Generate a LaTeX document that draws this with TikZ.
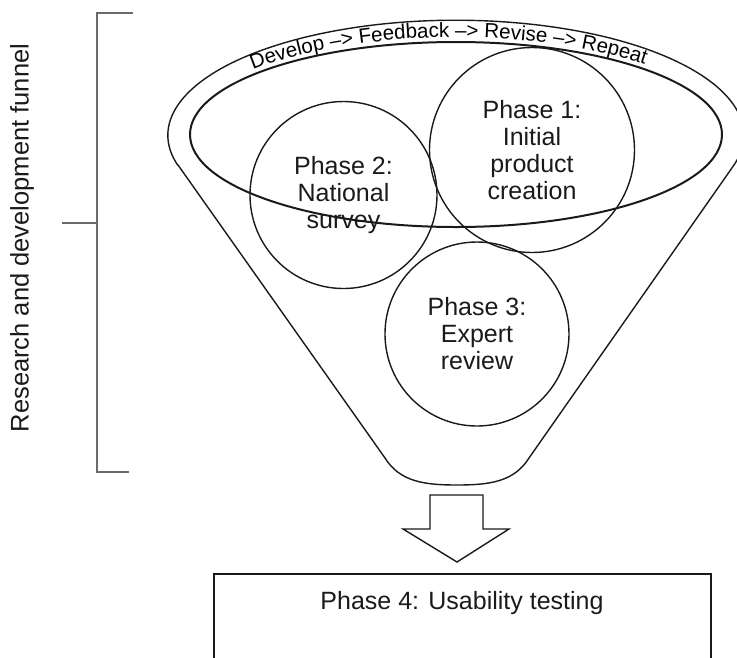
\documentclass[tikz,border=0pt]{standalone}
\usepackage{fontspec}
\setmainfont{Liberation Sans}
\usetikzlibrary{decorations.text}
\newcommand\arcfont{\fontsize{20.5pt}{22pt}\selectfont}
\newcommand\phasefont{\fontsize{25pt}{27pt}\selectfont}
\definecolor{ink}{HTML}{1A1A1A}
\definecolor{brk}{HTML}{6A6A6A}
\begin{document}
\begin{tikzpicture}[x=1pt,y=-1pt,
  thinline/.style={draw=ink, line width=1.4pt},
  phase/.style={circle, draw=ink, line width=1.4pt, inner sep=0pt, align=center, font=\phasefont, text=ink},
  bracketline/.style={draw=brk, line width=1.2pt}]
\useasboundingbox (0,0) rectangle (737,657);
\clip (0,0) rectangle (737,657);
% funnel outline
\draw[thinline] (178,165) -- (385,458)
  .. controls (400,482) and (425,485) .. (457,485)
  .. controls (489,485) and (514,482) .. (529,458)
  -- (734,165) arc[start angle=15, end angle=-195, x radius=288, y radius=115] -- cycle;
% rim ellipse
\draw[draw=ink, line width=2pt] (456,134.5) ellipse[x radius=266, y radius=92.5];
% text along the rim
\path[decorate, decoration={text along path, text align=left,
  text={|\arcfont|Develop –> Feedback –> Revise –> Repeat}}]
  (253,70) arc[start angle=221.5, end angle=340, x radius=271, y radius=97];
% phases
\node[phase, minimum size=205pt] (p1) at (532,150) {Phase 1:\\Initial\\product\\creation};
\node[phase, minimum size=187pt] (p2) at (343.5,195) {Phase 2:\\National\\survey};
\node[phase, minimum size=184pt] (p3) at (477,334) {Phase 3:\\Expert\\review};
% block arrow
\draw[thinline, fill=white] (430,495) -- (483,495) -- (483,529) -- (509,529) -- (457,562) -- (403,529) -- (430,529) -- cycle;
% phase 4 box
\node[draw=ink, line width=1.6pt, minimum width=497pt, minimum height=127pt, anchor=north west, inner sep=0pt] (p4) at (213,573) {};
\node[font=\phasefont, text=ink] (p4t) at (462,603) {Phase 4: Usability testing};
% bracket
\coordinate (bt) at (133,13);
\coordinate (bb) at (129,472);
\coordinate (bm) at (62,223);
\draw[bracketline] (bt) -- (97,13) -- (97,472) -- (bb);
\draw[bracketline] (bm) -- (97,223);
\node[rotate=90, font=\fontsize{25.5pt}{27pt}\selectfont, text=ink] (lab) at (22,238) {Research and development funnel};
\end{tikzpicture}
\end{document}
